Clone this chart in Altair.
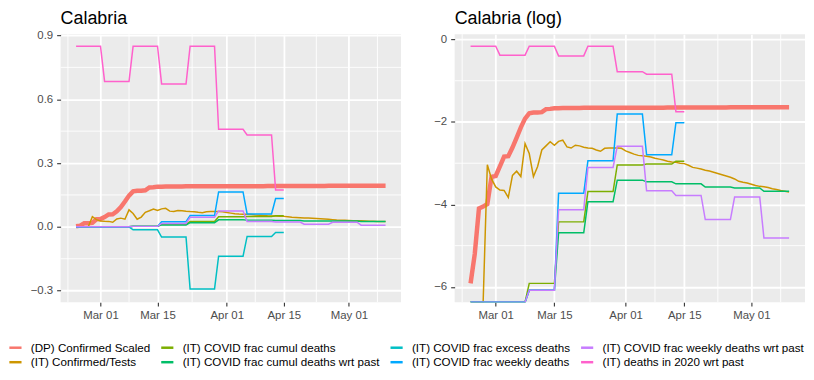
import numpy as np
import pandas as pd
import altair as alt

# ---------------- data ----------------
START = "2020-02-24"
N_DAYS = 77  # 2020-02-24 .. 2020-05-10
DATES = pd.date_range(START, periods=N_DAYS, freq="D").strftime("%Y-%m-%d").tolist()

SERIES = [
    "(DP) Confirmed Scaled",
    "(IT) Confirmed/Tests",
    "(IT) COVID frac cumul deaths",
    "(IT) COVID frac cumul deaths wrt past",
    "(IT) COVID frac excess deaths",
    "(IT) COVID frac weekly deaths",
    "(IT) COVID frac weekly deaths wrt past",
    "(IT) deaths in 2020 wrt past",
]
COLORS = ["#F8766D", "#CD9600", "#7CAE00", "#00BE67", "#00BFC4", "#00A9FF", "#C77CFF", "#FF61CC"]

DP_CONFIRMED = [
    0.0027, 0.0055, 0.0166, 0.0174, 0.0185, 0.0358, 0.0365, 0.0460, 0.0584, 0.0590,
    0.0728, 0.0926, 0.119, 0.147, 0.167, 0.170, 0.170, 0.172, 0.185, 0.186,
    0.189, 0.189, 0.190, 0.190, 0.190, 0.190, 0.190,
    0.191, 0.191, 0.191, 0.191, 0.191, 0.191, 0.191, 0.191, 0.191, 0.191,
    0.191, 0.191, 0.191, 0.191, 0.191, 0.191, 0.191, 0.191, 0.191, 0.191,
    0.192, 0.192, 0.192, 0.192, 0.192, 0.192, 0.192, 0.192, 0.192, 0.192,
    0.192, 0.192, 0.192, 0.192, 0.192,
    0.193, 0.193, 0.193, 0.193, 0.193, 0.193, 0.193, 0.193, 0.193, 0.193,
    0.193, 0.193, 0.193, 0.193, 0.193,
]
IT_CONF_TESTS = [
    0, 0, 0, 0,
    0.048, 0.034, 0.028, 0.026, 0.0257, 0.0217, 0.037, 0.041, 0.036, 0.080,
    0.063, 0.036, 0.046, 0.0686, 0.0758, 0.0837, 0.077,
    0.0846, 0.087, 0.074, 0.072, 0.077, 0.0758, 0.0735, 0.072, 0.0714, 0.0686,
    0.0665, 0.0714, 0.072, 0.072, 0.072, 0.0714,
    0.0672, 0.0646, 0.0620, 0.0602, 0.0596, 0.0590, 0.0578, 0.0561, 0.0550, 0.0539,
    0.0523, 0.0513, 0.0508, 0.0498, 0.0493, 0.0474, 0.0450, 0.0442, 0.0433, 0.0420,
    0.0412, 0.0400, 0.0388, 0.0376, 0.0365, 0.0354, 0.0340, 0.0321, 0.0314, 0.0308,
    0.0299, 0.0290, 0.0284, 0.0282, 0.0276, 0.0268, 0.0263, 0.0257, 0.0252, 0.0247,
]

# weekly values (Mon-Sun weeks starting 2020-02-24)
FRAC_CUMUL_W = [0, 0, 0.0027, 0.012, 0.025, 0.0478, 0.0488, 0.0523]
FRAC_CUMUL_PAST_W = [0, 0, 0.00229, 0.0092, 0.0196, 0.033, 0.0317, 0.0302, 0.0279, 0.0273, 0.0252]
FRAC_EXCESS_W = [0, 0, -0.014, -0.048, -0.292, -0.138, -0.045, -0.0265]
FRAC_WEEKLY_W = [0, 0, 0.00229, 0.024, 0.053, 0.164, 0.061, 0.133]
FRAC_WEEKLY_PAST_W = [0, 0, 0.00229, 0.0161, 0.045, 0.075, 0.0255, 0.0228, 0.0127, 0.0219, 0.0081]
DEATHS_2020_PAST_W = [0.849, 0.684, 0.849, 0.672, 0.849, 0.459, 0.432, 0.173]
LAST_WEEK_DAYS_SHORT = 3  # IT series that stop on 2020-04-15


def daily(weekly_vals, last_len=7):
    out = []
    for i, v in enumerate(weekly_vals):
        n = last_len if i == len(weekly_vals) - 1 else 7
        out += [v] * n
    return out + [None] * (N_DAYS - len(out))


VALUES = [
    DP_CONFIRMED,
    IT_CONF_TESTS,
    daily(FRAC_CUMUL_W, LAST_WEEK_DAYS_SHORT),
    daily(FRAC_CUMUL_PAST_W),
    daily(FRAC_EXCESS_W, LAST_WEEK_DAYS_SHORT),
    daily(FRAC_WEEKLY_W, LAST_WEEK_DAYS_SHORT),
    daily(FRAC_WEEKLY_PAST_W),
    daily(DEATHS_2020_PAST_W, LAST_WEEK_DAYS_SHORT),
]
for v in VALUES:
    assert len(v) == N_DAYS

# axes
X_TICKS = [(3, 1), (3, 15), (4, 1), (4, 15), (5, 1)]
X_MINOR = ["2020-02-22", "2020-03-08", "2020-03-23T12:00:00Z", "2020-04-08", "2020-04-23", "2020-05-08"]
LIN_DOMAIN = [-0.354, 0.906]
LIN_TICKS = [-0.3, 0.0, 0.3, 0.6, 0.9]
LIN_MINOR = [-0.15, 0.15, 0.45, 0.75]
LOG_DOMAIN = [-6.37, 0.13]
LOG_TICKS = [-6, -4, -2, 0]
LOG_MINOR = [-5, -3, -1]

# ---------------- tables ----------------
rows = []
for k, (name, vals) in enumerate(zip(SERIES, VALUES)):
    for d, v in zip(DATES, vals):
        if v is None:
            continue
        if v > 0:
            lv = float(np.log(v))
        elif v == 0:
            lv = LOG_DOMAIN[0]  # -Inf drawn at the panel edge, as ggplot does
        else:
            lv = None
        rows.append({"series": name, "k": k, "date": d, "lin": v, "log": lv})
df = pd.DataFrame(rows)
df_lin = df[["series", "k", "date", "lin"]].rename(columns={"lin": "v"})
df_log = df.dropna(subset=["log"])[["series", "k", "date", "log"]].rename(columns={"log": "v"})

FONT = "Liberation Sans"
XDOMAIN = [
    alt.DateTime(year=2020, month=2, date=20, hours=4, minutes=48, utc=True),
    alt.DateTime(year=2020, month=5, date=13, hours=19, minutes=12, utc=True),
]
XVALUES = [alt.DateTime(year=2020, month=m, date=d, utc=True) for m, d in X_TICKS]

legend = alt.Legend(
    title=None, orient="none", legendX=-53, legendY=308, columns=4, gridAlign="each",
    symbolType="stroke", symbolStrokeWidth=2.5, symbolSize=150,
    labelFont=FONT, labelFontSize=11.7, labelColor="black",
    columnPadding=5, rowPadding=0, labelOffset=8, padding=0, labelLimit=400,
)


def panel(data, title, ydomain, yticks, yfmt, yminor, width, extent, toff):
    xs = alt.Scale(type="utc", domain=XDOMAIN, nice=False)
    ys = alt.Scale(domain=ydomain, nice=False, zero=False)
    xenc = alt.X("date:T", scale=xs, title=None,
                 axis=alt.Axis(values=XVALUES, format="%b %d",
                               labelPadding=3, grid=True))
    yenc = alt.Y("v:Q", scale=ys, title=None,
                 axis=alt.Axis(values=yticks, format=yfmt, labelPadding=4,
                               minExtent=extent, grid=True))
    minor_x = alt.Chart(pd.DataFrame({"date": X_MINOR})).mark_rule(
        color="white", strokeWidth=0.9).encode(x=alt.X("date:T", scale=xs))
    minor_y = alt.Chart(pd.DataFrame({"v": yminor})).mark_rule(
        color="white", strokeWidth=0.9).encode(y=alt.Y("v:Q", scale=ys))
    color = alt.Color("series:N", scale=alt.Scale(domain=SERIES, range=COLORS),
                      legend=legend)
    base = alt.Chart(data)
    thick = base.transform_filter(alt.datum.k == 0).mark_line(
        strokeWidth=4.5, clip=True).encode(x=xenc, y=yenc, color=color)
    thin = base.transform_filter(alt.datum.k > 0).mark_line(
        strokeWidth=1.5, clip=True).encode(x=xenc, y=yenc, color=color,
                                           order=alt.Order("date:T"))
    return alt.layer(minor_x, minor_y, thick, thin).properties(
        width=width, height=270,
        title=alt.TitleParams(title, anchor="start", frame="group", fontSize=18,
                              fontWeight="normal", font=FONT, color="black", offset=toff),
    )


left = panel(df_lin, "Calabria", LIN_DOMAIN, LIN_TICKS, ".1f", LIN_MINOR, 343, 49, 2)
right = panel(df_log, "Calabria (log)", LOG_DOMAIN, LOG_TICKS, "d", LOG_MINOR, 353, 30, 6)

chart = alt.hconcat(left, right, spacing=23).properties(
    padding={"left": 0, "top": 0, "right": 0, "bottom": 0}
).configure_view(fill="#EBEBEB", strokeWidth=0).configure_axis(
    domain=False, tickColor="#333333", tickWidth=1.1, tickSize=4,
    gridColor="white", gridWidth=1.8,
    labelColor="#4D4D4D", labelFont=FONT, labelFontSize=11.5,
)

chart.save("out.html", embed_options={"renderer": "svg", "actions": False})
